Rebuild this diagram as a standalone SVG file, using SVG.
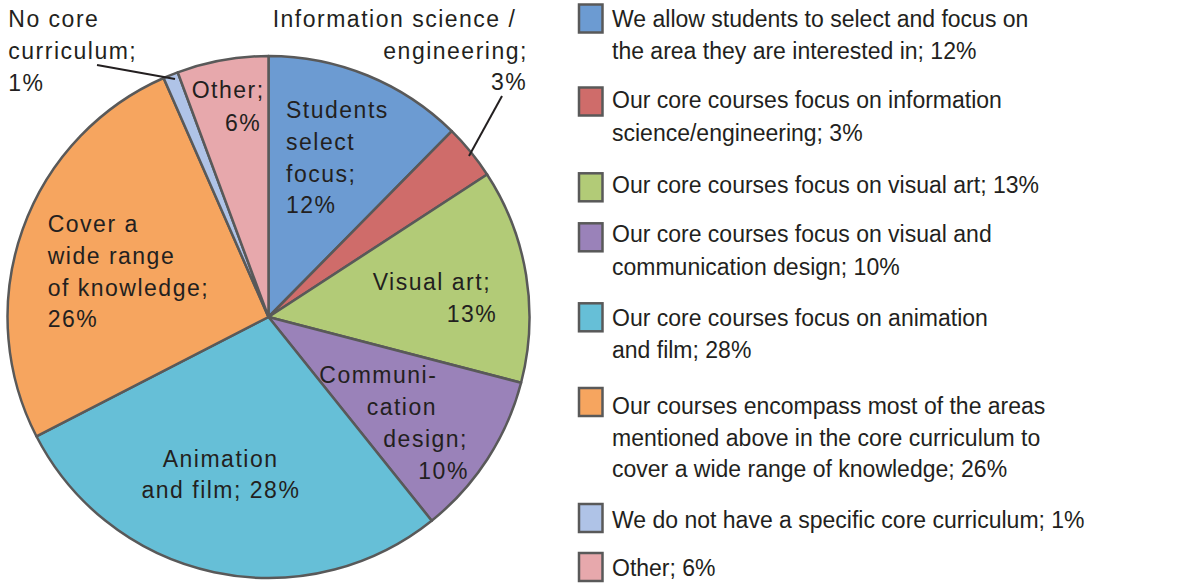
<svg xmlns="http://www.w3.org/2000/svg" width="1189" height="584" viewBox="0 0 1189 584">
<style>
.sl{stroke:#595959;stroke-width:2.5;stroke-linejoin:round}
.pl{font-family:"Liberation Sans",Arial,sans-serif;font-size:23px;letter-spacing:1.5px;fill:#231F20}
.lg{font-family:"Liberation Sans",Arial,sans-serif;font-size:23px;fill:#231F20}
.sw{stroke:#595959;stroke-width:2.5}
.ld{stroke:#231F20;stroke-width:2;fill:none}
</style>
<rect width="1189" height="584" fill="#ffffff"/>
<g id="pie">
<path id="s-students" class="sl" fill="#6C9BD2" d="M268.5,317 L268.5,56 A261,261 0 0 1 451.8,131.2 Z"/>
<path id="s-info" class="sl" fill="#CF6C6A" d="M268.5,317 L451.8,131.2 A261,261 0 0 1 487.1,174.5 Z"/>
<path id="s-visual" class="sl" fill="#B2CB77" d="M268.5,317 L487.1,174.5 A261,261 0 0 1 521.1,382.8 Z"/>
<path id="s-comm" class="sl" fill="#9A82B9" d="M268.5,317 L521.1,382.8 A261,261 0 0 1 431.7,520.7 Z"/>
<path id="s-anim" class="sl" fill="#66BFD7" d="M268.5,317 L431.7,520.7 A261,261 0 0 1 36.4,436.3 Z"/>
<path id="s-cover" class="sl" fill="#F6A55F" d="M268.5,317 L36.4,436.3 A261,261 0 0 1 163.6,78 Z"/>
<path id="s-nocore" class="sl" fill="#AFC3E7" d="M268.5,317 L163.6,78 A261,261 0 0 1 177.7,72.3 Z"/>
<path id="s-other" class="sl" fill="#E7A8AC" d="M268.5,317 L177.7,72.3 A261,261 0 0 1 268.5,56 Z"/>
</g>
<g id="connectors">
<line class="ld" x1="97" y1="65" x2="175" y2="79"/>
<line class="ld" x1="502" y1="96" x2="469" y2="156"/>
</g>
<g id="pie-labels">
<g id="l-nocore"><text class="pl" x="8.3" y="26.7">No core</text><text class="pl" x="8.3" y="59">curriculum;</text><text class="pl" x="8.3" y="90.7">1%</text></g>
<g id="l-info"><text class="pl" x="272.7" y="26.7">Information science /</text><text class="pl" x="383.3" y="58.5">engineering;</text><text class="pl" x="491" y="90">3%</text></g>
<g id="l-other"><text class="pl" x="191.7" y="98.3">Other;</text><text class="pl" x="225" y="131">6%</text></g>
<g id="l-students"><text class="pl" x="286" y="117.7">Students</text><text class="pl" x="286" y="150">select</text><text class="pl" x="286" y="181.7">focus;</text><text class="pl" x="286" y="212.7">12%</text></g>
<g id="l-cover"><text class="pl" x="47.7" y="231.7">Cover a</text><text class="pl" x="47.7" y="264">wide range</text><text class="pl" x="47.7" y="296">of knowledge;</text><text class="pl" x="47.7" y="327.3">26%</text></g>
<g id="l-visual"><text class="pl" x="372.7" y="290">Visual art;</text><text class="pl" x="446.7" y="321.7">13%</text></g>
<g id="l-comm"><text class="pl" x="319.3" y="382.7">Communi-</text><text class="pl" x="366.7" y="415">cation</text><text class="pl" x="383.3" y="446.7">design;</text><text class="pl" x="418.3" y="479.3">10%</text></g>
<g id="l-anim"><text class="pl" x="162.7" y="466.7">Animation</text><text class="pl" x="141.5" y="498.3">and film; 28%</text></g>
</g>
<g id="legend">
<g id="lg1"><rect class="sw" fill="#6C9BD2" x="579" y="4.5" width="23.5" height="28"/><text class="lg" x="612" y="26.7">We allow students to select and focus on</text><text class="lg" x="612" y="59.3">the area they are interested in; 12%</text></g>
<g id="lg2"><rect class="sw" fill="#CF6C6A" x="579" y="87.5" width="23.5" height="28"/><text class="lg" x="612" y="108.3">Our core courses focus on information</text><text class="lg" x="612" y="140.5">science/engineering; 3%</text></g>
<g id="lg3"><rect class="sw" fill="#B2CB77" x="579" y="173.3" width="23.5" height="28"/><text class="lg" x="612" y="192.7">Our core courses focus on visual art; 13%</text></g>
<g id="lg4"><rect class="sw" fill="#9A82B9" x="579" y="223.3" width="23.5" height="28"/><text class="lg" x="612" y="241.7">Our core courses focus on visual and</text><text class="lg" x="612" y="274.5">communication design; 10%</text></g>
<g id="lg5"><rect class="sw" fill="#66BFD7" x="579" y="303.3" width="23.5" height="28"/><text class="lg" x="612" y="325.7">Our core courses focus on animation</text><text class="lg" x="612" y="358.3">and film; 28%</text></g>
<g id="lg6"><rect class="sw" fill="#F6A55F" x="579" y="388" width="23.5" height="28"/><text class="lg" x="612" y="414.3">Our courses encompass most of the areas</text><text class="lg" x="612" y="445.5">mentioned above in the core curriculum to</text><text class="lg" x="612" y="476.5">cover a wide range of knowledge; 26%</text></g>
<g id="lg7"><rect class="sw" fill="#AFC3E7" x="579" y="504" width="23.5" height="28"/><text class="lg" x="612" y="527.7">We do not have a specific core curriculum; 1%</text></g>
<g id="lg8"><rect class="sw" fill="#E7A8AC" x="579" y="553" width="23.5" height="28"/><text class="lg" x="612" y="576">Other; 6%</text></g>
</g>
</svg>
